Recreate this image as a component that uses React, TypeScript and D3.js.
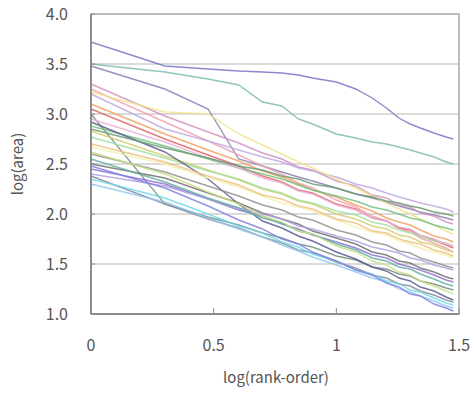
import React from 'react'
import * as d3 from 'd3'

// ranks used for each curve, plotted as log10(rank)
const ranks = [1, 2, 3, 4, 5, 6, 7, 8, 10, 12, 14, 16, 18, 20, 22, 25, 28, 30]

const xTicks = [0, 0.5, 1, 1.5]
const xTickLabels = ['0', '0.5', '1', '1.5']
const yTicks = [1.0, 1.5, 2.0, 2.5, 3.0, 3.5, 4.0]

const seriesColors = [
  '#7676c4', '#7dbcae', '#8a80b0', '#d090c0', '#f0a0b0', '#c0a8e0', '#eee48c',
  '#f0a060', '#e06464', '#709080', '#70c080', '#d4cc6c', '#a0e0a0', '#5a5a90',
  '#f0f0b0', '#909090', '#707070', '#9070d0', '#b0a0e0', '#8a8a9a', '#90c8f0',
  '#70d8e8', '#60b0a0', '#e8b0d8', '#6a9a70', '#8080e0', '#f0c080', '#c8e080',
]

const seriesValues = [
  [3.72, 3.48, 3.45, 3.43, 3.42, 3.41, 3.39, 3.36, 3.32, 3.25, 3.16, 3.06, 2.96, 2.90, 2.86, 2.81, 2.77, 2.75],
  [3.50, 3.42, 3.35, 3.29, 3.12, 3.08, 2.95, 2.90, 2.80, 2.76, 2.72, 2.70, 2.67, 2.64, 2.61, 2.57, 2.52, 2.50],
  [3.48, 3.25, 3.05, 2.55, 2.48, 2.42, 2.37, 2.33, 2.26, 2.20, 2.16, 2.12, 2.08, 2.05, 2.02, 1.99, 1.96, 1.94],
  [3.30, 2.98, 2.82, 2.71, 2.61, 2.55, 2.47, 2.44, 2.33, 2.28, 2.19, 2.16, 2.09, 2.07, 2.01, 1.98, 1.92, 1.90],
  [3.25, 2.92, 2.73, 2.59, 2.48, 2.40, 2.31, 2.26, 2.14, 2.07, 1.98, 1.93, 1.86, 1.82, 1.76, 1.71, 1.66, 1.62],
  [3.20, 2.85, 2.73, 2.64, 2.57, 2.52, 2.46, 2.43, 2.37, 2.30, 2.26, 2.21, 2.17, 2.14, 2.11, 2.08, 2.05, 2.02],
  [3.22, 3.02, 3.00, 2.80, 2.69, 2.60, 2.52, 2.46, 2.35, 2.26, 2.18, 2.11, 2.05, 2.00, 1.95, 1.89, 1.83, 1.80],
  [3.10, 2.80, 2.64, 2.53, 2.43, 2.37, 2.30, 2.24, 2.17, 2.09, 2.03, 1.96, 1.92, 1.89, 1.84, 1.78, 1.75, 1.72],
  [3.05, 2.75, 2.59, 2.48, 2.38, 2.32, 2.24, 2.21, 2.10, 2.05, 1.96, 1.93, 1.86, 1.84, 1.78, 1.74, 1.69, 1.66],
  [3.00, 2.10, 1.97, 1.89, 1.81, 1.76, 1.70, 1.67, 1.58, 1.54, 1.47, 1.45, 1.40, 1.38, 1.33, 1.30, 1.26, 1.24],
  [2.88, 2.68, 2.55, 2.46, 2.40, 2.35, 2.29, 2.24, 2.18, 2.13, 2.07, 2.04, 2.00, 1.96, 1.94, 1.89, 1.86, 1.84],
  [2.83, 2.58, 2.44, 2.34, 2.25, 2.20, 2.13, 2.10, 2.00, 1.95, 1.88, 1.85, 1.79, 1.77, 1.72, 1.69, 1.64, 1.62],
  [2.77, 2.56, 2.43, 2.35, 2.26, 2.21, 2.14, 2.11, 2.03, 1.99, 1.92, 1.89, 1.84, 1.81, 1.78, 1.73, 1.71, 1.68],
  [2.92, 2.62, 2.35, 2.10, 1.93, 1.86, 1.78, 1.73, 1.62, 1.55, 1.47, 1.43, 1.36, 1.33, 1.27, 1.23, 1.17, 1.14],
  [2.67, 2.50, 2.36, 2.27, 2.18, 2.11, 2.07, 2.03, 1.94, 1.87, 1.82, 1.79, 1.73, 1.70, 1.66, 1.62, 1.59, 1.56],
  [2.60, 2.42, 2.28, 2.18, 2.09, 2.04, 1.97, 1.94, 1.84, 1.79, 1.72, 1.69, 1.63, 1.61, 1.56, 1.52, 1.48, 1.46],
  [2.50, 2.36, 2.21, 2.11, 2.01, 1.95, 1.90, 1.83, 1.76, 1.70, 1.62, 1.59, 1.53, 1.51, 1.46, 1.42, 1.37, 1.35],
  [2.45, 2.30, 2.15, 2.04, 1.98, 1.90, 1.85, 1.79, 1.72, 1.66, 1.59, 1.56, 1.50, 1.47, 1.44, 1.39, 1.34, 1.32],
  [2.40, 2.28, 2.15, 2.06, 2.00, 1.95, 1.88, 1.85, 1.78, 1.73, 1.67, 1.64, 1.61, 1.56, 1.54, 1.49, 1.46, 1.44],
  [2.38, 2.10, 1.95, 1.86, 1.77, 1.71, 1.64, 1.61, 1.52, 1.46, 1.39, 1.36, 1.30, 1.28, 1.23, 1.19, 1.14, 1.12],
  [2.30, 2.12, 1.96, 1.85, 1.77, 1.69, 1.63, 1.57, 1.49, 1.42, 1.36, 1.32, 1.25, 1.22, 1.18, 1.13, 1.08, 1.06],
  [2.35, 2.16, 2.00, 1.88, 1.81, 1.72, 1.67, 1.60, 1.53, 1.44, 1.40, 1.33, 1.30, 1.24, 1.22, 1.16, 1.11, 1.09],
  [2.55, 2.32, 2.16, 2.06, 1.96, 1.91, 1.83, 1.80, 1.70, 1.64, 1.56, 1.53, 1.47, 1.45, 1.40, 1.35, 1.30, 1.28],
  [2.95, 2.72, 2.56, 2.46, 2.36, 2.31, 2.23, 2.20, 2.09, 2.04, 1.96, 1.93, 1.87, 1.85, 1.79, 1.75, 1.70, 1.68],
  [2.85, 2.66, 2.56, 2.48, 2.44, 2.38, 2.35, 2.30, 2.26, 2.20, 2.17, 2.13, 2.11, 2.08, 2.06, 2.02, 2.00, 1.98],
  [2.48, 2.26, 2.08, 1.94, 1.85, 1.75, 1.70, 1.62, 1.53, 1.44, 1.39, 1.31, 1.27, 1.20, 1.18, 1.10, 1.06, 1.03],
  [2.70, 2.52, 2.38, 2.29, 2.19, 2.15, 2.08, 2.05, 1.95, 1.91, 1.83, 1.81, 1.75, 1.72, 1.70, 1.64, 1.61, 1.58],
  [2.62, 2.40, 2.22, 2.10, 1.98, 1.92, 1.83, 1.80, 1.68, 1.62, 1.53, 1.49, 1.42, 1.39, 1.33, 1.28, 1.23, 1.20],
]

const W = 474
const H = 394
const left = 91
const right = 459
const top = 14
const bottom = 314
const font = '"Noto Sans CJK JP", "DejaVu Sans", sans-serif'

export default function App() {
  const x = d3.scaleLinear().domain([0, 1.5]).range([left, right])
  const y = d3.scaleLinear().domain([1, 4]).range([bottom, top])

  const line = d3
    .line<number>()
    .x((_, i) => x(Math.log10(ranks[i])))
    .y((v) => y(v))

  return (
    <svg width={W} height={H} style={{ position: 'absolute', left: 0, top: 0, background: '#fff' }}>
      {yTicks.slice(1, -1).map((t) => (
        <line key={t} x1={left} x2={right} y1={y(t)} y2={y(t)} stroke="#cfcfcf" strokeWidth={1.5} />
      ))}
      {seriesValues.map((vals, i) => (
        <path
          key={i}
          d={line(vals) || ''}
          fill="none"
          stroke={seriesColors[i]}
          strokeWidth={1.4}
          strokeOpacity={0.85}
        />
      ))}
      <rect x={left} y={top} width={right - left} height={bottom - top} fill="none" stroke="#a8a8a8" strokeWidth={1.5} />
      <line x1={left} x2={left} y1={top} y2={bottom} stroke="#8c8c8c" strokeWidth={2} />
      <line x1={left} x2={right} y1={bottom} y2={bottom} stroke="#8c8c8c" strokeWidth={2} />
      {yTicks.map((t) => (
        <g key={t}>
          <line x1={left} x2={left + 4} y1={y(t)} y2={y(t)} stroke="#8c8c8c" strokeWidth={1} />
          <text x={68} y={y(t)} dy="0.35em" textAnchor="end" fontFamily={font} fontSize={16} fill="#555">
            {t.toFixed(1)}
          </text>
        </g>
      ))}
      {xTicks.map((t, i) => (
        <g key={t}>
          <line x1={x(t)} x2={x(t)} y1={bottom} y2={bottom - 6} stroke="#8c8c8c" strokeWidth={1} />
          <text x={x(t)} y={351} textAnchor="middle" fontFamily={font} fontSize={16} fill="#555">
            {xTickLabels[i]}
          </text>
        </g>
      ))}
      <text x={276} y={383} textAnchor="middle" fontFamily={font} fontSize={15} fill="#555">
        log(rank-order)
      </text>
      <text
        transform={`translate(23,${(top + bottom) / 2}) rotate(-90)`}
        textAnchor="middle"
        fontFamily={font}
        fontSize={15}
        fill="#555"
      >
        log(area)
      </text>
    </svg>
  )
}
